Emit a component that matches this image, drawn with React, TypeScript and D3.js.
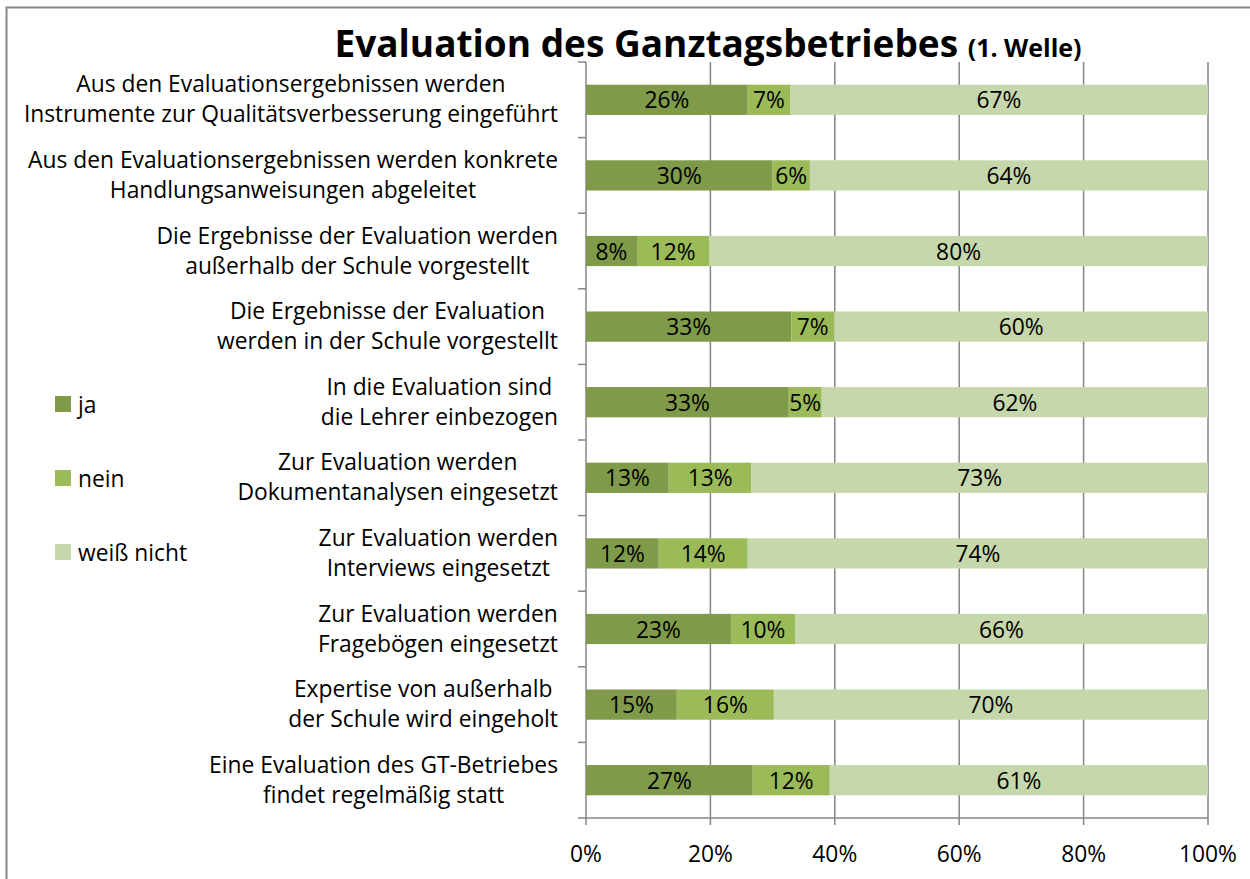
import React, { useEffect, useRef } from "react";
import * as d3 from "d3";

const categories: string[][] = [
  ["Aus den Evaluationsergebnissen werden", "Instrumente zur Qualitätsverbesserung eingeführt"],
  ["Aus den Evaluationsergebnissen werden konkrete", "Handlungsanweisungen abgeleitet"],
  ["Die Ergebnisse der Evaluation werden", "außerhalb der Schule vorgestellt"],
  ["Die Ergebnisse der Evaluation", "werden in der Schule vorgestellt"],
  ["In die Evaluation sind", "die Lehrer einbezogen"],
  ["Zur Evaluation werden", "Dokumentanalysen eingesetzt"],
  ["Zur Evaluation werden", "Interviews eingesetzt"],
  ["Zur Evaluation werden", "Fragebögen eingesetzt"],
  ["Expertise von außerhalb", "der Schule wird eingeholt"],
  ["Eine Evaluation des GT-Betriebes", "findet regelmäßig statt"],
];

const seriesNames = ["ja", "nein", "weiß nicht"];
const jaValues = [26, 30, 8.2, 33, 32.6, 13.3, 11.7, 23.3, 14.6, 26.8];
const neinValues = [6.8, 6, 11.6, 6.9, 5.3, 13.3, 14.3, 10.3, 15.6, 12.4];
const weissValues = [67.2, 64, 80.2, 60.1, 62.1, 73.4, 74, 66.4, 69.8, 60.8];
const colors = ["#7f9a48", "#9bbb59", "#c6d7ab"];
const xTicks = [0, 0.2, 0.4, 0.6, 0.8, 1];

const FONT = "'Open Sans', Lato, sans-serif";
const FS = 22.8;

export default function App() {
  const ref = useRef<SVGSVGElement>(null);
  useEffect(() => {
    const svg = d3.select(ref.current);
    svg.selectAll("*").remove();
    const left = 586, right = 1208, top = 62, bottom = 818;
    const grey = "#868686";

    // border
    svg.append("rect").attr("x", 6.5).attr("y", 7.5).attr("width", 1260).attr("height", 900)
      .attr("fill", "white").attr("stroke", grey).attr("stroke-width", 2);

    const x = d3.scaleLinear().domain([0, 1]).range([left, right]);
    const y = d3.scaleBand<number>().domain(d3.range(categories.length)).range([top, bottom]).paddingInner(0.6).paddingOuter(0.3);
    const yb = d3.scaleBand<number>().domain(d3.range(categories.length)).range([top, bottom]);

    // gridlines
    svg.append("g").selectAll("line").data(xTicks.slice(1)).join("line")
      .attr("x1", d => x(d)).attr("x2", d => x(d)).attr("y1", top).attr("y2", bottom + 7)
      .attr("stroke", grey).attr("stroke-width", 1.5);

    // axes lines
    svg.append("line").attr("x1", left).attr("x2", left).attr("y1", top).attr("y2", bottom + 7)
      .attr("stroke", grey).attr("stroke-width", 1.5);
    svg.append("line").attr("x1", left - 8).attr("x2", right).attr("y1", bottom).attr("y2", bottom)
      .attr("stroke", grey).attr("stroke-width", 1.5);
    // category ticks
    svg.append("g").selectAll("line").data(d3.range(categories.length)).join("line")
      .attr("x1", left - 8).attr("x2", left).attr("y1", d => yb(d)!).attr("y2", d => yb(d)!)
      .attr("stroke", grey).attr("stroke-width", 1.5);

    // stacked bars
    const rows = categories.map((c, i) => {
      const vals = [jaValues[i], neinValues[i], weissValues[i]];
      const tot = d3.sum(vals);
      let acc = 0;
      return vals.map((v, k) => {
        const s = { x0: acc / tot, x1: (acc + v) / tot, v, k, i };
        acc += v;
        return s;
      });
    });
    const segs = rows.flat();
    svg.append("g").selectAll("rect").data(segs).join("rect")
      .attr("x", d => x(d.x0)).attr("width", d => x(d.x1) - x(d.x0))
      .attr("y", d => y(d.i)!).attr("height", y.bandwidth())
      .attr("fill", d => colors[d.k]);
    svg.append("g").selectAll("text").data(segs).join("text")
      .attr("x", d => (x(d.x0) + x(d.x1)) / 2).attr("y", d => y(d.i)! + y.bandwidth() / 2)
      .attr("text-anchor", "middle").attr("dominant-baseline", "central")
      .attr("font-family", FONT).attr("font-size", FS).attr("fill", "#000")
      .text(d => Math.round(d.v) + "%");

    // x tick labels
    svg.append("g").selectAll("text").data(xTicks).join("text")
      .attr("x", d => x(d)).attr("y", 853).attr("text-anchor", "middle").attr("dominant-baseline", "central")
      .attr("font-family", FONT).attr("font-size", FS).text(d => d3.format(".0%")(d));

    // category labels: block right-aligned, lines centered within block
    const labelRight = 558;
    const lineH = 30;
    categories.forEach((lines, i) => {
      const cy = yb(i)! + yb.bandwidth() / 2 - 1;
      const g = svg.append("g");
      const texts = lines.map((t, j) => g.append("text")
        .attr("y", cy + (j - (lines.length - 1) / 2) * lineH)
        .attr("dominant-baseline", "central").attr("text-anchor", "middle")
        .attr("font-family", FONT).attr("font-size", FS).text(t));
      const maxW = d3.max(texts, t => (t.node() as SVGTextElement).getComputedTextLength()) || 0;
      texts.forEach(t => t.attr("x", labelRight - maxW / 2));
    });

    // legend
    const legY = [404, 478, 552];
    seriesNames.forEach((n, k) => {
      svg.append("rect").attr("x", 55).attr("y", legY[k] - 8).attr("width", 16).attr("height", 16).attr("fill", colors[k]);
      svg.append("text").attr("x", 78).attr("y", legY[k]).attr("dominant-baseline", "central")
        .attr("font-family", FONT).attr("font-size", FS).text(n);
    });

    // title
    const title = svg.append("text").attr("x", 708).attr("y", 57).attr("text-anchor", "middle")
      .attr("font-family", FONT).attr("font-weight", "bold");
    title.append("tspan").attr("font-size", 37).text("Evaluation des Ganztagsbetriebes ");
    title.append("tspan").attr("font-size", 25).text("(1. Welle)");
  }, []);
  return (
    <svg ref={ref} width={1250} height={879}
      style={{ position: "absolute", left: 0, top: 0, background: "white" }} />
  );
}
